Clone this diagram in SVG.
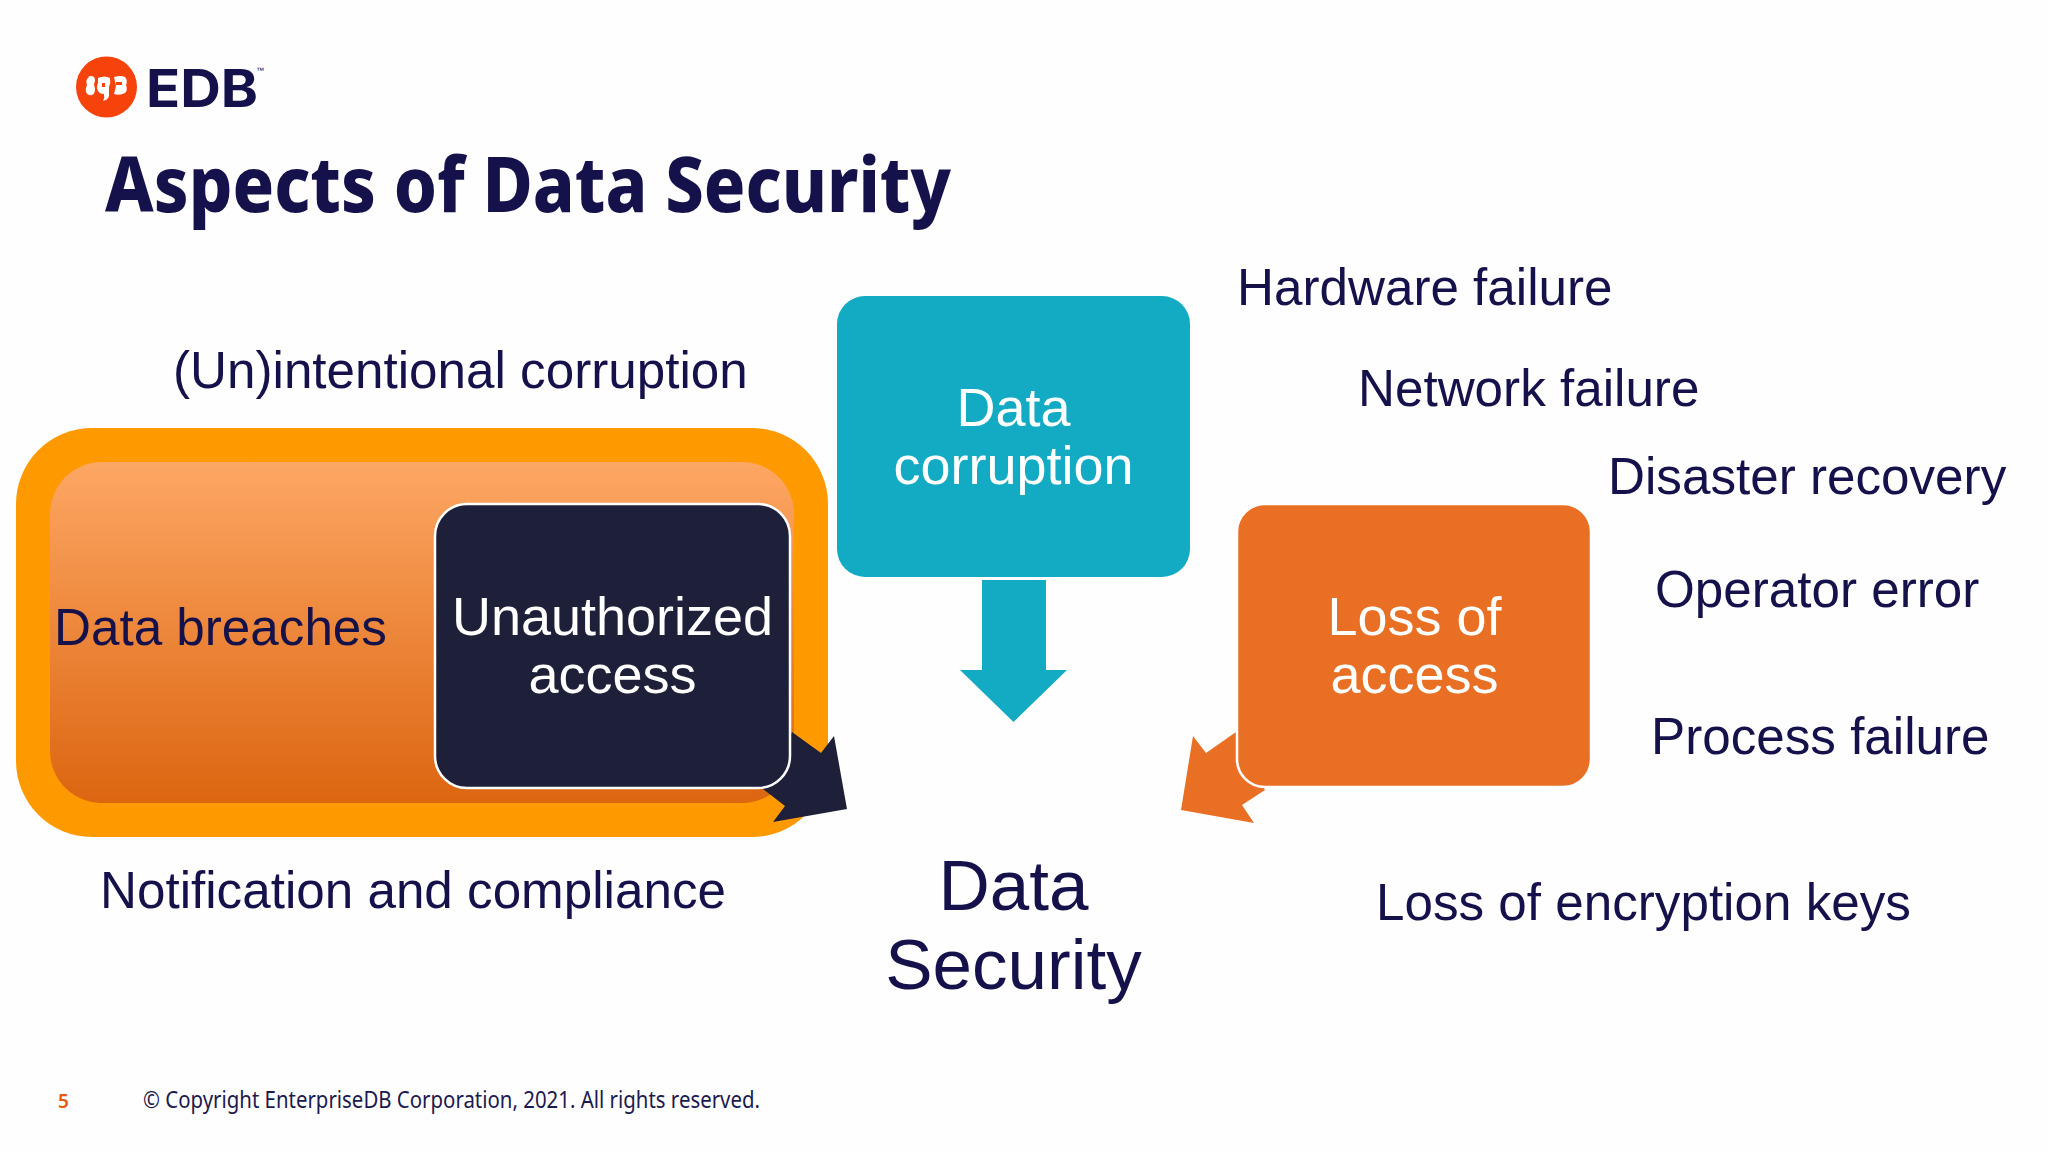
<svg xmlns="http://www.w3.org/2000/svg" width="2048" height="1152" viewBox="0 0 2048 1152">
<style>
text{font-family:"Liberation Sans",Arial,sans-serif;fill:#15124b}
.l{font-size:51.2px}
.w{font-size:54px;fill:#fff;text-anchor:middle}
.n{stroke:#fff;stroke-width:2.5}
</style>
<defs>
<linearGradient id="g" x1="0" y1="0" x2="0" y2="1"><stop offset="0" stop-color="#fda764"/><stop offset="1" stop-color="#dc6510"/></linearGradient>
</defs>
<rect width="2048" height="1152" fill="#fefefe"/>
<g id="logo">
<circle cx="106.500" cy="87" r="30.500" fill="#f6430c"/>
<path d="M88 77q3-2 6 0 2 3 0 7l1 5q0 5-3 6-4 1-6-3-1-3 1-7-2-5 2-8zM98 78q7-3 12 0 1 5-1 9v9q-1 4-6 5 2-3 1-7-6 0-7-6 0-3 1-5zM114 77q7-2 11 0 3 3 1 8 2 5-1 8-5 3-11 1l2-8z" fill="#fff"/>
<path d="M102 83h3v4h-3zM116 82h6v3h-6z" fill="#f6430c"/>
<text x="146" y="107" style="font-family:Inter,'Liberation Sans',sans-serif;font-weight:700;font-size:52px" textLength="112" lengthAdjust="spacingAndGlyphs">EDB</text>
<text x="256" y="73" style="font-size:8px">™</text>
</g>
<text id="title" x="105" y="212" style="font-family:'Noto Sans','Liberation Sans',sans-serif;font-weight:800;font-size:77px" textLength="846" lengthAdjust="spacingAndGlyphs">Aspects of Data Security</text>
<g id="breaches">
<rect x="16" y="428" width="812" height="409" rx="76" fill="#ff9900"/>
<rect x="50" y="462" width="744" height="341" rx="52" fill="url(#g)"/>
<text x="54" y="645" class="l">Data breaches</text>
</g>
<g id="connectors">
<path id="arrow-down" d="M982 580H1046V670H1067L1013.500 722L960 670H982Z" fill="#12abc3"/>
<path id="arrow-unauth" d="M792 732L821 753L834 736L847 809L773 822L785 806L763 789Z" fill="#1e2039"/>
<path id="arrow-loss" d="M1236 732L1206 753L1193 736L1181 810L1254 823L1242 805L1265 790Z" fill="#e96f24"/>
</g>
<g id="unauthorized">
<rect class="n" x="435" y="504" width="355" height="284" rx="32" fill="#1e2039"/>
<text class="w" x="612.500" y="635">Unauthorized</text>
<text class="w" x="612.500" y="693">access</text>
</g>
<g id="corruption">
<rect x="837" y="296" width="353" height="281" rx="28" fill="#12abc3"/>
<text class="w" x="1013.500" y="426">Data</text>
<text class="w" x="1013.500" y="484">corruption</text>
</g>
<g id="loss">
<rect class="n" x="1237" y="504" width="354" height="283" rx="28" fill="#e96f24"/>
<text class="w" x="1414.500" y="635">Loss of</text>
<text class="w" x="1414.500" y="693">access</text>
</g>
<g id="security">
<text x="1013.500" y="910" text-anchor="middle" font-size="71">Data</text>
<text x="1013.500" y="989" text-anchor="middle" font-size="71">Security</text>
</g>
<g id="labels">
<text class="l" x="173" y="388">(Un)intentional corruption</text>
<text class="l" x="1237" y="305">Hardware failure</text>
<text class="l" x="1358" y="406">Network failure</text>
<text class="l" x="1608" y="494">Disaster recovery</text>
<text class="l" x="1655" y="607">Operator error</text>
<text class="l" x="1651" y="754">Process failure</text>
<text class="l" x="1376" y="920">Loss of encryption keys</text>
<text class="l" x="100" y="908">Notification and compliance</text>
</g>
<g id="footer">
<text x="58" y="1108" style="font-family:'Noto Sans',sans-serif;font-size:19px;font-weight:600;fill:#e8590c">5</text>
<text x="143" y="1108" style="font-family:'Noto Sans',sans-serif;font-size:23px;fill:#1c1a4e" textLength="617" lengthAdjust="spacingAndGlyphs">© Copyright EnterpriseDB Corporation, 2021. All rights reserved.</text>
</g>
</svg>
